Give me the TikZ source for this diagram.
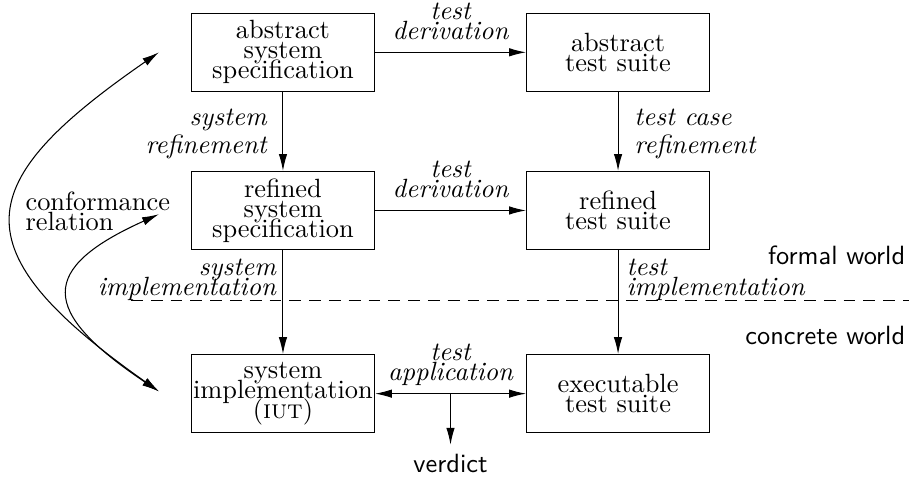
\documentclass[tikz,border=0pt]{standalone}
\usepackage{tikz}
\usetikzlibrary{calc,positioning,arrows.meta}
\newcommand{\tight}{\fontsize{10pt}{7.6pt}\selectfont\lineskiplimit=-\maxdimen}

\begin{document}
\begin{tikzpicture}[>={Latex[length=6.4pt,width=3.2pt]}]

    % `block' is used for the six boxes.
    % `annot' is used for the italic arrow labels.
    % `world' is used for the sans serif texts.
    \tikzstyle{block} = [draw,minimum width=2.437cm,minimum height=1.04cm,inner sep=0.5pt,align=center,font=\tight]
    \tikzstyle{annot} = [inner sep=1pt,font=\tight\itshape]
    \tikzstyle{world} = [inner sep=0pt,font=\sffamily]
    %
    \useasboundingbox (0,0) rectangle (12.104,-6.365);
    \matrix[row sep=1.052cm, column sep=2.011cm] (chart) at (5.999,-2.969) {
    % First row.
    \node[block] (ass) {abstract\\system\\specification}; &
    \node[block] (ats) {abstract\\test suite}; \\
    % Second row.
    \node[block] (rss) {refined\\system\\specification}; &
    \node[block] (rts) {refined\\test suite}; \\[0.333cm]
    % Third row.
    \node[block] (impl) {system\\implementation\\(\textsc{iut})}; &
    \node[block] (ets) {executable\\test suite}; \\
    };

    % Arrows between the boxes.
    \draw[->] (ass) -- node[annot,above=3.5pt,align=center] (derive1) {test\\derivation} (ats);
    \draw[->] (rss) -- node[annot,above=3.5pt,align=center] (derive2) {test\\derivation} (rts);
    \draw[->] (ass) -- node[annot,left=5pt,yshift=-1pt,align=right] (sysref) {system\\[3pt]refinement} (rss);
    \draw[->] (ats) -- node[annot,right=5pt,yshift=-1pt,align=left] (caseref) {test case\\[3pt]refinement} (rts);
    \draw[->] (rss) -- (impl);
    \draw[->] (rts) -- (ets);
    \draw[<->] (impl) -- node[annot,above=2pt,align=center] (apply) {test\\application} (ets);

    % Border between the formal and the concrete world.
    \coordinate (dl) at (1.744,-4.007);
    \coordinate (dr) at (12.104,-4.007);
    \draw[dash pattern=on 4.5pt off 3pt] (dl) -- (dr);
    \node[annot,anchor=south east,align=right,xshift=-1.5pt,yshift=-1.2pt] (sysimpl) at (rss.south |- dl) {system\\implementation};
    \node[annot,anchor=south west,align=left,xshift=2pt,yshift=-1.2pt] (testimpl) at (rts.south |- dl) {test\\implementation};
    \node[world,anchor=east] (formal) at (12.06,-3.394) {formal world};
    \node[world,anchor=east] (concrete) at (12.06,-4.47) {concrete world};

    % Verdict.
    \coordinate (app) at ($(impl.east)!0.5!(ets.west)$);
    \node[world,inner sep=3.33pt,below=0.68cm of app] (verdict) {verdict};
    \draw[->] (app) -- (verdict);

    % Conformance relation.
    \node[anchor=west,inner sep=0pt,align=left,font=\tight] (conf) at (0.333,-2.81) {conformance\\relation};
    \coordinate (spec) at ($(ass.west)+(-0.426,0)$);
    \coordinate (refspec) at ($(rss.west)+(-0.426,-0.05)$);
    \coordinate (iut) at ($(impl.west)+(-0.426,0.03)$);
    \draw[<->] (spec) .. controls ($(spec)+(-2.5,-1.73)$) and ($(iut)+(-2.7,1.9)$) .. (iut);
    \draw[<->] (refspec) .. controls ($(refspec)+(-1.6,-0.72)$) and ($(iut)+(-1.6,1.07)$) .. (iut);
    %
\end{tikzpicture}
\end{document}
